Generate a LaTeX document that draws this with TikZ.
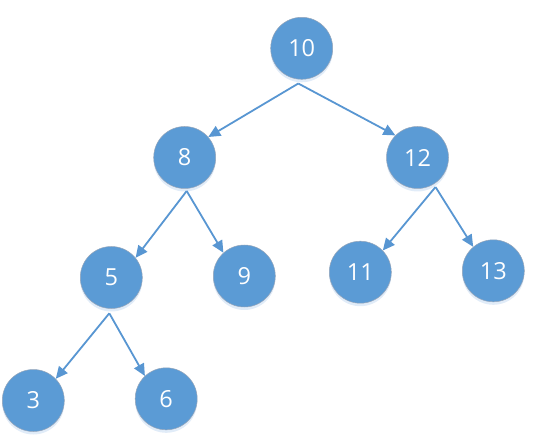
\documentclass[tikz,border=0pt]{standalone}
\usepackage{fontspec}
\setmainfont{Open Sans}
\usetikzlibrary{arrows.meta,shadows}
\definecolor{nodeblue}{RGB}{91,155,213}
\definecolor{edgeblue}{RGB}{88,150,210}
\definecolor{rimgray}{RGB}{150,165,185}
\definecolor{shadowblue}{RGB}{170,200,235}
\tikzset{
  treenode/.style={circle, minimum size=62pt, inner sep=0pt, fill=nodeblue,
    draw=rimgray, line width=0.5pt, text=white,
    font=\fontsize{23.5}{28}\selectfont,
    drop shadow={shadow xshift=0pt, shadow yshift=-3pt, opacity=0.35, fill=shadowblue}},
  treeedge/.style={draw=edgeblue, line width=1.8pt,
    -{Triangle[length=12pt,width=11pt]}}
}
\begin{document}
\begin{tikzpicture}[x=1pt,y=-1pt]
\useasboundingbox (0,0) rectangle (537,443);
% nodes
\node[treenode] (n10) at (301.7,48.3) {10};
\node[treenode] (n8) at (184.7,157.5) {8};
\node[treenode] (n12) at (417.5,157.5) {12};
\node[treenode] (n5) at (111.3,277.5) {5};
\node[treenode] (n9) at (244.3,276) {9};
\node[treenode] (n11) at (360.3,272.2) {11};
\node[treenode] (n13) at (493.3,270.8) {13};
\node[treenode] (n3) at (33.3,400.5) {3};
\node[treenode] (n6) at (166.2,398.8) {6};
% edge origins
\coordinate (s10) at (298.3,83.5);
\coordinate (s8) at (186.7,191);
\coordinate (s12) at (435.5,187);
\coordinate (s5) at (109.3,313.3);
% edges
\draw[treeedge] (s10) -- (n8.41);
\draw[treeedge] (s10) -- (n12.135);
\draw[treeedge] (s8) -- (n5.39);
\draw[treeedge] (s8) -- (n9.132);
\draw[treeedge] (s12) -- (n11.44);
\draw[treeedge] (s12) -- (n13.130);
\draw[treeedge] (s5) -- (n3.44);
\draw[treeedge] (s5) -- (n6.133);
\end{tikzpicture}
\end{document}
